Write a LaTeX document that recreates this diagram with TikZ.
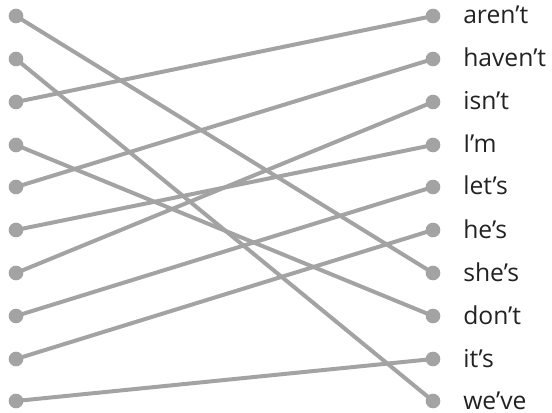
\documentclass[tikz,border=0pt]{standalone}
\usepackage{fontspec}
\setmainfont{Open Sans}
\definecolor{linegray}{HTML}{A3A3A3}
\definecolor{textdark}{HTML}{222222}
\begin{document}
\begin{tikzpicture}[x=0.75pt,y=-0.75pt,
  dotnode/.style={circle,fill=linegray,inner sep=0pt,minimum size=11pt},
  wordlabel/.style={anchor=base west,text=textdark,font=\fontsize{18.5pt}{21pt}\selectfont,inner sep=0pt},
  link/.style={draw=linegray,line width=3pt}]
\useasboundingbox (0,0) rectangle (552,413);
\foreach \i/\yy in {1/16,2/59,3/102,4/145,5/187,6/230,7/273,8/316,9/359,10/401}{
  \node[dotnode] (L\i) at (16,\yy) {};
  \node[dotnode] (R\i) at (433,\yy) {};
}
\foreach \i/\w in {1/aren’t,2/haven’t,3/isn’t,4/I’m,5/let’s,6/he’s,7/she’s,8/don’t,9/it’s,10/we’ve}{
  \node[wordlabel] (W\i) at ([xshift=22.5pt,yshift=-6pt]R\i.center) {\w};
}
\foreach \a/\b in {1/7,2/10,3/1,4/8,5/2,6/4,7/3,8/5,9/6,10/9}{
  \draw[link] (L\a.center) -- (R\b.center);
}
\end{tikzpicture}
\end{document}
